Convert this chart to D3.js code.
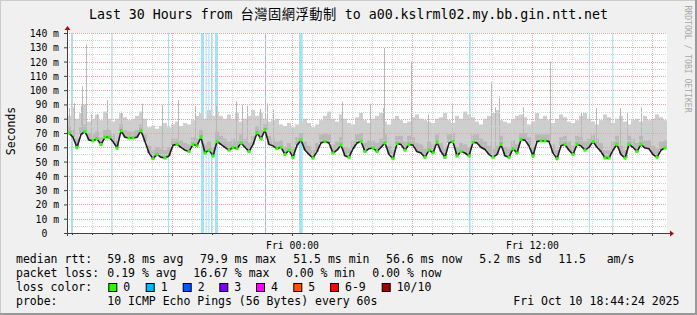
<!DOCTYPE html>
<meta charset="utf-8">
<title>smokeping</title>
<script src="https://d3js.org/d3.v7.min.js"></script>
<style>
  body { margin: 0; background: #f0f0f0; }
  svg { display: block; }
  text { font-family: "DejaVu Sans Mono", monospace; fill: #000; }
  .yax text { white-space: pre; }
</style>
<body>
<svg width="697" height="315"></svg>
<script>
var svg = d3.select("svg");
var width = +svg.attr("width");
var height = +svg.attr("height");

// ---- data ----
var start = new Date(2025, 9, 9, 12, 45);
var end = new Date(2025, 9, 10, 18, 45);
var stepMin = 12; // one sample every 12 minutes

// median rtt (ms)
var median = [70,67,60,69,71,65,64.5,66,62,67,
  67,64,59.5,71.5,67,66.5,66.5,67,71.5,64,
  56,52,55,53,52.5,54,61.5,62,60,58,
  57,62,61,67,56,58,54,64,62,60,
  58,60,59,63,60,57,62,70,66,72,
  62,61,59,60,55,58,53,61.5,65,58,
  55,52.5,57,63,64,63,56,58,61.5,54,
  53,59,63,64,57,59,59.5,57,60,63,
  55,52,62.5,62,58,62,61.5,57,56,53,
  58,56,63.5,57,53,63,64,54,57,56,
  54,63.5,63,60,58.5,55,53,55,62,54,
  53,59,56,65.5,65,61,54,64,64.5,64.5,
  64,56,52,61,62,58,55,62,61,58,
  60,64,60,57,52.5,52.5,58,62,55,52.5,
  62,60,57,62,59.5,59,55,53,58,59.5];

// top of the dense (darker) smoke
var smokeMid = [75,72,66,74,76,70,69,71,67,72,
  72,69,65,76,72,71,71,72,76,69,
  61,58,60,59,58,60,66,66,65,63,
  62,67,66,72,62,64,60,71,68,66,
  64,66,65,69,66,63,68,75,72,76,
  68,66,64,65,60,63,59,67,70,64,
  61,58,63,69,70,69,62,64,67,60,
  59,65,69,70,63,65,65,63,66,69,
  61,58,68,68,64,68,67,63,62,59,
  64,62,69,63,59,69,70,60,63,62,
  60,69,69,66,64,61,59,61,68,60,
  59,65,62,70,70,67,60,69,69,69,
  69,62,58,67,68,64,61,68,67,64,
  66,69,66,63,58,58,64,68,61,58,
  68,66,63,68,65,65,61,59,64,65];

// top of the light smoke (slowest ping)
var smokeHi = [82,88,80,84,90,78,80,83,79,85,
  80,78,80,84,81,79,80,82,85,80,
  74,75,73,75,77,74,76,78,75,77,
  76,79,82,84,80,86,82,85,82,80,
  83,80,84,78,80,82,86,82,84,80,
  78,79,80,76,75,77,74,76,78,80,
  77,74,76,79,82,85,80,78,83,80,
  77,76,81,84,79,77,80,82,84,78,
  76,80,82,79,77,78,81,83,80,79,
  78,77,80,81,84,79,77,82,80,85,
  83,81,78,76,80,82,84,86,79,78,
  77,80,82,83,81,76,78,84,80,82,
  79,77,80,83,81,78,77,79,82,84,
  80,78,76,79,83,81,77,80,82,78,
  76,79,80,78,82,79,80,83,81,79];

// single slow pings (minutes after start, ms)
var spikeMin = [1,6,21,41,44,56,71,89,119,161,224,284,334,384,447,506,524,539,579,599,619,
  824,909,949,952,1032,1083,1154,1272,1284,1297,1367,1449,1541,1587,1659,1679,1722];
var spikeVal = [93,87.5,91,89,102.7,132,83,83,93,85,90.6,89.7,93,88.7,89,92,89.7,89,86.8,90.6,86.4,
  92,90,87.5,129.5,120,83,90,106,88,95.7,88,120,84,87.5,87.5,84,88];

// loss periods (minutes after start, length in minutes, lost pings)
var lossStart = [12,133,303,402,416,424,432,444,594,696,1206,1566,1636];
var lossLen   = [6,3,3,9,3,3,4,9,3,11,5,3,3];
var lossLevel = [1,1,1,1,1,1,1,1,2,1,1,1,1];

var yTicks = [0,10,20,30,40,50,60,70,80,90,100,110,120,130,140];
var xLabels = [new Date(2025, 9, 10, 0, 0), new Date(2025, 9, 10, 12, 0)];

var lossNames = ["0","1","2","3","4","5","6-9","10/10"];
var lossColors = ["#26ff00","#00b8ff","#0059ff","#7e00ff","#ff00ff","#ff5500","#ff0000","#a10000"];
var lossBg = {1: "#a3e2f8", 2: "#b0b6f2"};

var title = ["Last 30 Hours from ", "台灣固網浮動制", " to a00.kslrml02.my.bb.gin.ntt.net"];

// ---- scales ----
var x = d3.scaleTime().domain([start, end]).range([67, 667]);
var y = d3.scaleLinear().domain([0, 140]).range([233, 33]);
function tAt(min) { return d3.timeMinute.offset(start, min); }
function px(v) { return Math.round(v) + 0.5; }

// ---- frame ----
svg.append("rect").attr("width", width).attr("height", height).attr("fill", "#f0f0f0");
svg.append("rect").attr("x", 0).attr("y", 0).attr("width", width).attr("height", 1).attr("fill", "#cbcbcb");
svg.append("rect").attr("x", 0).attr("y", 0).attr("width", 1).attr("height", height).attr("fill", "#cbcbcb");
svg.append("rect").attr("x", width - 2).attr("y", 0).attr("width", 2).attr("height", height).attr("fill", "#999");
svg.append("rect").attr("x", 0).attr("y", height - 2).attr("width", width).attr("height", 2).attr("fill", "#999");

// canvas
svg.append("rect").attr("x", 67).attr("y", 33).attr("width", 600).attr("height", 200).attr("fill", "#fff");

// ---- loss background bars ----
svg.append("g").selectAll("rect")
  .data(lossStart)
  .enter().append("rect")
  .attr("x", function(d) { return x(tAt(d)); })
  .attr("width", function(d, i) { return x(tAt(d + lossLen[i])) - x(tAt(d)); })
  .attr("y", 33).attr("height", 200)
  .attr("fill", function(d, i) { return lossBg[lossLevel[i]]; });

// ---- smoke ----
var idx = d3.range(median.length);
function colX(i) { return x(tAt(i * stepMin)); }
function colW(i) { return x(tAt((i + 1) * stepMin)) - x(tAt(i * stepMin)); }
var smoke = svg.append("g");
smoke.selectAll("rect.hi")
  .data(idx).enter().append("rect").attr("class", "hi")
  .attr("x", colX).attr("width", colW)
  .attr("y", function(i) { return y(smokeHi[i]); })
  .attr("height", function(i) { return y(median[i]) - y(smokeHi[i]); })
  .attr("fill", "#cecece");
smoke.selectAll("line.spike")
  .data(spikeMin).enter().append("line").attr("class", "spike")
  .attr("x1", function(d) { return px(x(tAt(d))); })
  .attr("x2", function(d) { return px(x(tAt(d))); })
  .attr("y1", function(d, i) { return y(spikeVal[i]); })
  .attr("y2", function(d) { return y(median[Math.min(median.length - 1, Math.floor(d / stepMin))]); })
  .attr("stroke", "#b8b8b8").attr("stroke-width", 1);
smoke.selectAll("rect.mid")
  .data(idx).enter().append("rect").attr("class", "mid")
  .attr("x", colX).attr("width", colW)
  .attr("y", function(i) { return y(smokeMid[i]); })
  .attr("height", function(i) { return y(median[i]) - y(smokeMid[i]); })
  .attr("fill", "#b9b9b9");

// ---- grid ----
var grid = svg.append("g").attr("fill", "none").attr("stroke-dasharray", "1,1");
var hours = x.ticks(d3.timeHour.every(1));
var six = x.ticks(d3.timeHour.every(6)).map(function(d) { return +d; });
grid.selectAll("line.vmin")
  .data(hours.filter(function(d) { return six.indexOf(+d) < 0; }))
  .enter().append("line")
  .attr("x1", function(d) { return px(x(d)); }).attr("x2", function(d) { return px(x(d)); })
  .attr("y1", 33).attr("y2", 233).attr("stroke", "#d2d2d2");
var yMinor = d3.range(5, 140, 10);
grid.selectAll("line.hmin")
  .data(yMinor).enter().append("line")
  .attr("x1", 67).attr("x2", 667)
  .attr("y1", function(d) { return px(y(d)); }).attr("y2", function(d) { return px(y(d)); })
  .attr("stroke", "#d2d2d2");
grid.selectAll("line.vmaj")
  .data(six).enter().append("line")
  .attr("x1", function(d) { return px(x(d)); }).attr("x2", function(d) { return px(x(d)); })
  .attr("y1", 33).attr("y2", 233).attr("stroke", "#e4a6a6");
grid.selectAll("line.hmaj")
  .data(yTicks.slice(1)).enter().append("line")
  .attr("x1", 67).attr("x2", 667)
  .attr("y1", function(d) { return px(y(d)); }).attr("y2", function(d) { return px(y(d)); })
  .attr("stroke", "#e4a6a6");

// ---- median line coloured by loss ----
var pts = idx.map(function(i) { return [colX(i) + colW(i) / 2, y(median[i])]; });
svg.append("path")
  .attr("d", d3.line()(pts))
  .attr("fill", "none").attr("stroke", "#1e1e1e").attr("stroke-width", 1.6);
// the green loss colour shows where the median turns or stays flat
var turns = idx.filter(function(i) {
  var a = median[Math.max(0, i - 1)], b = median[i], c = median[Math.min(median.length - 1, i + 1)];
  return (b - a) * (c - b) <= 0;
});
svg.append("g").selectAll("rect")
  .data(turns).enter().append("rect")
  .attr("x", function(i) { return pts[i][0] - 1.5; })
  .attr("width", 3)
  .attr("y", function(i) { return pts[i][1] - 1.5; })
  .attr("height", 3)
  .attr("fill", lossColors[0]);

// ---- axes ----
var yAxis = svg.append("g").attr("class", "yax").attr("transform", "translate(67,0)")
  .call(d3.axisLeft(y).tickValues(yTicks).tickSize(3).tickPadding(5)
    .tickFormat(function(d) { return d === 0 ? "0  " : d + " m"; }));
yAxis.select(".domain").remove();
yAxis.selectAll("line").attr("stroke", "#404040");
yAxis.selectAll("text").attr("font-size", "9.75px")
  .attr("font-family", "DejaVu Sans Mono").attr("dy", "0.36em");

var xAxis = svg.append("g").attr("transform", "translate(0,233)")
  .call(d3.axisBottom(x).tickValues(xLabels).tickSize(0).tickPadding(9)
    .tickFormat(d3.timeFormat("%a %H:%M")));
xAxis.select(".domain").remove();
xAxis.selectAll("text").attr("font-size", "9.75px").attr("font-family", "DejaVu Sans Mono");

// minor ticks under the time axis
svg.append("g").selectAll("line")
  .data(hours).enter().append("line")
  .attr("x1", function(d) { return px(x(d)); }).attr("x2", function(d) { return px(x(d)); })
  .attr("y1", 233).attr("y2", function(d) { return six.indexOf(+d) < 0 ? 235 : 236; })
  .attr("stroke", "#404040");

// axis lines with arrows
svg.append("line").attr("x1", 64).attr("x2", 670).attr("y1", 233.5).attr("y2", 233.5).attr("stroke", "#404040");
svg.append("line").attr("x1", 67.5).attr("x2", 67.5).attr("y1", 236).attr("y2", 29).attr("stroke", "#404040");
svg.append("path").attr("d", "M670,230.5 L674,233.5 L670,236.5 Z").attr("fill", "#a01010");
svg.append("path").attr("d", "M64.5,30 L67.5,26 L70.5,30 Z").attr("fill", "#a01010");

// ---- titles ----
var t = svg.append("text").attr("x", 348.5).attr("y", 19).attr("text-anchor", "middle")
  .attr("font-size", "13.25px").style("white-space", "pre");
t.append("tspan").text(title[0]);
t.append("tspan").text(title[1]).attr("font-family", "Noto Sans CJK TC").attr("letter-spacing", "0.5px");
t.append("tspan").text(title[2]);

svg.append("text").attr("transform", "translate(15,131) rotate(-90)")
  .attr("text-anchor", "middle").attr("font-size", "11.5px").text("Seconds");

svg.append("text").attr("transform", "translate(685,59) rotate(90)")
  .attr("text-anchor", "middle").attr("font-size", "8.1px").style("fill", "#a8a8a8")
  .text("RRDTOOL / TOBI OETIKER");

// ---- legend ----
var statsRtt = ["59.8 ms avg", "79.9 ms max", "51.5 ms min", "56.6 ms now", "5.2 ms sd", "11.5", "am/s"];
var statsRttX = [107.3, 200, 293.3, 386, 479.3, 558.3, 606.7];
var statsLoss = ["0.19 % avg", "16.67 % max", "0.00 % min", "0.00 % now"];
var statsLossX = [107.3, 193.3, 286, 372.3];
var probe = "10 ICMP Echo Pings (56 Bytes) every 60s";
var stamp = "Fri Oct 10 18:44:24 2025";
var lossBoxX = [108.3, 145.7, 182.7, 219.3, 256, 293.3, 330, 381.7];

var leg = svg.append("g").attr("font-size", "11.5px").style("white-space", "pre");
var rows = [262.5, 276.5, 290.5, 304.5];
leg.append("text").attr("x", 16).attr("y", rows[0]).text("median rtt:");
leg.append("text").attr("x", 16).attr("y", rows[1]).text("packet loss:");
leg.append("text").attr("x", 16).attr("y", rows[2]).text("loss color:");
leg.append("text").attr("x", 16).attr("y", rows[3]).text("probe:");
leg.selectAll("text.rtt").data(statsRtt).enter().append("text")
  .attr("x", function(d, i) { return statsRttX[i]; }).attr("y", rows[0]).text(function(d) { return d; });
leg.selectAll("text.loss").data(statsLoss).enter().append("text")
  .attr("x", function(d, i) { return statsLossX[i]; }).attr("y", rows[1]).text(function(d) { return d; });
leg.selectAll("rect").data(lossNames).enter().append("rect")
  .attr("x", function(d, i) { return lossBoxX[i] + 0.5; }).attr("y", 283.5)
  .attr("width", 8).attr("height", 8)
  .attr("fill", function(d, i) { return lossColors[i]; }).attr("stroke", "#000");
leg.selectAll("text.lc").data(lossNames).enter().append("text")
  .attr("x", function(d, i) { return lossBoxX[i] + 15; }).attr("y", rows[2]).text(function(d) { return d; });
leg.append("text").attr("x", 107.3).attr("y", rows[3]).text(probe);
leg.append("text").attr("x", 513.3).attr("y", rows[3]).text(stamp);
</script>
